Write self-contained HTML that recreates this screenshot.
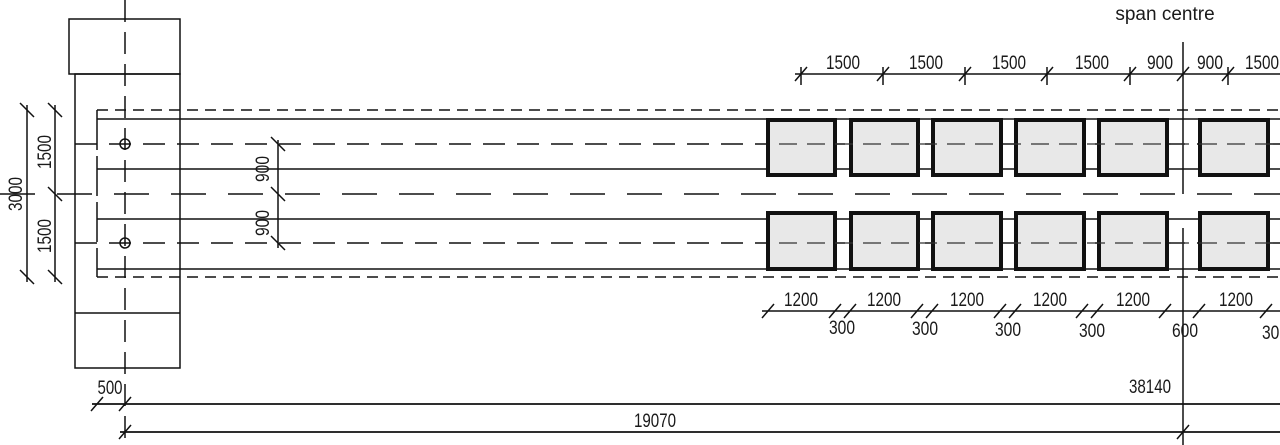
<!DOCTYPE html>
<html><head><meta charset="utf-8"><style>
html,body{margin:0;padding:0;background:#fff;}
svg{display:block;}
text{font-family:"Liberation Sans",sans-serif;fill:#1a1a1a;}
.d{font-size:19px;}
</style></head><body>
<svg width="1280" height="445" viewBox="0 0 1280 445" xmlns="http://www.w3.org/2000/svg">
<g stroke="#111" stroke-width="1.5" fill="none">
  <!-- column / pier -->
  <rect x="69" y="19" width="111" height="55"/>
  <rect x="75" y="74" width="105" height="294"/>
  <line x1="75" y1="313" x2="180" y2="313"/>
  <line x1="125" y1="0" x2="125" y2="445" stroke-dasharray="22,10"/>
  <!-- deck outline -->
  <line x1="97" y1="110" x2="1280" y2="110" stroke-dasharray="11,7"/>
  <line x1="97" y1="277" x2="1280" y2="277" stroke-dasharray="11,7"/>
  <line x1="97" y1="110" x2="97" y2="277" stroke-dasharray="40,6"/>
  <line x1="97" y1="119" x2="1280" y2="119"/>
  <line x1="97" y1="169" x2="1280" y2="169"/>
  <line x1="97" y1="219" x2="1280" y2="219"/>
  <line x1="97" y1="269" x2="1280" y2="269"/>
  <line x1="75" y1="144" x2="1280" y2="144" stroke-dasharray="22,12"/>
  <line x1="75" y1="243" x2="1280" y2="243" stroke-dasharray="22,12"/>
  <line x1="0" y1="194" x2="1280" y2="194" stroke-dasharray="35,22"/>
  <circle cx="125" cy="144" r="5"/>
  <circle cx="125" cy="243" r="5"/>
  <!-- left dims -->
  <line x1="27" y1="105" x2="27" y2="282"/>
  <line x1="55" y1="105" x2="55" y2="282"/>
  <line x1="20" y1="103" x2="34" y2="117"/><line x1="20" y1="270" x2="34" y2="284"/>
  <line x1="48" y1="103" x2="62" y2="117"/><line x1="48" y1="187" x2="62" y2="201"/><line x1="48" y1="270" x2="62" y2="284"/>
  <line x1="278" y1="140" x2="278" y2="248"/>
  <line x1="271" y1="137" x2="285" y2="151"/><line x1="271" y1="187" x2="285" y2="201"/><line x1="271" y1="236" x2="285" y2="250"/>
  <!-- span centre line -->
  <line x1="1183" y1="42" x2="1183" y2="194"/>
  <line x1="1183" y1="228" x2="1183" y2="445"/>
  <!-- top dim -->
  <line x1="795" y1="74" x2="1280" y2="74"/>
  <line x1="801" y1="67" x2="801" y2="85"/><line x1="883" y1="67" x2="883" y2="85"/><line x1="965" y1="67" x2="965" y2="85"/><line x1="1047" y1="67" x2="1047" y2="85"/><line x1="1130" y1="67" x2="1130" y2="85"/><line x1="1228" y1="67" x2="1228" y2="85"/>
  <line x1="795" y1="81" x2="807" y2="67"/><line x1="877" y1="81" x2="889" y2="67"/><line x1="959" y1="81" x2="971" y2="67"/><line x1="1041" y1="81" x2="1053" y2="67"/><line x1="1124" y1="81" x2="1136" y2="67"/><line x1="1177" y1="81" x2="1189" y2="67"/><line x1="1222" y1="81" x2="1234" y2="67"/>
  <!-- bottom dim -->
  <line x1="762" y1="311" x2="1280" y2="311"/>
  <line x1="762" y1="318" x2="774" y2="304"/><line x1="829" y1="318" x2="841" y2="304"/><line x1="844" y1="318" x2="856" y2="304"/><line x1="911" y1="318" x2="923" y2="304"/><line x1="926" y1="318" x2="938" y2="304"/><line x1="994" y1="318" x2="1006" y2="304"/><line x1="1009" y1="318" x2="1021" y2="304"/><line x1="1076" y1="318" x2="1088" y2="304"/><line x1="1091" y1="318" x2="1103" y2="304"/><line x1="1159" y1="318" x2="1171" y2="304"/><line x1="1193" y1="318" x2="1205" y2="304"/><line x1="1260" y1="318" x2="1272" y2="304"/>
  <!-- overall dims -->
  <line x1="92" y1="404" x2="1280" y2="404" stroke-width="1.8"/>
  <line x1="120" y1="432" x2="1280" y2="432" stroke-width="1.8"/>
  <line x1="91" y1="411" x2="103" y2="397"/><line x1="119" y1="411" x2="131" y2="397"/>
  <line x1="119" y1="439" x2="131" y2="425"/><line x1="1177" y1="439" x2="1189" y2="425"/>
</g>
<!-- boxes -->
<g fill="#e8e8e8" stroke="#111" stroke-width="4">
  <rect x="768" y="120" width="67" height="55"/><rect x="851" y="120" width="67" height="55"/><rect x="933" y="120" width="68" height="55"/><rect x="1016" y="120" width="68" height="55"/><rect x="1099" y="120" width="68" height="55"/><rect x="1200" y="120" width="68" height="55"/>
  <rect x="768" y="213" width="67" height="56"/><rect x="851" y="213" width="67" height="56"/><rect x="933" y="213" width="68" height="56"/><rect x="1016" y="213" width="68" height="56"/><rect x="1099" y="213" width="68" height="56"/><rect x="1200" y="213" width="68" height="56"/>
</g>
<g stroke="#333" stroke-width="1.2" stroke-dasharray="18,10" fill="none">
  <line x1="779" y1="144" x2="1275" y2="144"/><line x1="779" y1="243" x2="1275" y2="243"/>
</g>
<!-- texts -->
<text x="1165" y="20" font-size="19" text-anchor="middle">span centre</text>
<g class="d" text-anchor="middle">
  <text x="843" y="69" textLength="34" lengthAdjust="spacingAndGlyphs">1500</text>
  <text x="926" y="69" textLength="34" lengthAdjust="spacingAndGlyphs">1500</text>
  <text x="1009" y="69" textLength="34" lengthAdjust="spacingAndGlyphs">1500</text>
  <text x="1092" y="69" textLength="34" lengthAdjust="spacingAndGlyphs">1500</text>
  <text x="1160" y="69" textLength="26" lengthAdjust="spacingAndGlyphs">900</text>
  <text x="1210" y="69" textLength="26" lengthAdjust="spacingAndGlyphs">900</text>
  <text x="1262" y="69" textLength="34" lengthAdjust="spacingAndGlyphs">1500</text>
  <text x="801" y="306" textLength="34" lengthAdjust="spacingAndGlyphs">1200</text>
  <text x="884" y="306" textLength="34" lengthAdjust="spacingAndGlyphs">1200</text>
  <text x="967" y="306" textLength="34" lengthAdjust="spacingAndGlyphs">1200</text>
  <text x="1050" y="306" textLength="34" lengthAdjust="spacingAndGlyphs">1200</text>
  <text x="1133" y="306" textLength="34" lengthAdjust="spacingAndGlyphs">1200</text>
  <text x="1236" y="306" textLength="34" lengthAdjust="spacingAndGlyphs">1200</text>
  <text x="842" y="334" textLength="26" lengthAdjust="spacingAndGlyphs">300</text>
  <text x="925" y="335" textLength="26" lengthAdjust="spacingAndGlyphs">300</text>
  <text x="1008" y="336" textLength="26" lengthAdjust="spacingAndGlyphs">300</text>
  <text x="1092" y="337" textLength="26" lengthAdjust="spacingAndGlyphs">300</text>
  <text x="1185" y="337" textLength="26" lengthAdjust="spacingAndGlyphs">600</text>
  <text x="1275" y="339" textLength="26" lengthAdjust="spacingAndGlyphs">300</text>
  <text x="110" y="394" textLength="25" lengthAdjust="spacingAndGlyphs">500</text>
  <text x="655" y="427" textLength="42" lengthAdjust="spacingAndGlyphs">19070</text>
  <text x="1150" y="393" textLength="42" lengthAdjust="spacingAndGlyphs">38140</text>
  <text transform="translate(22,194) rotate(-90)" textLength="34" lengthAdjust="spacingAndGlyphs">3000</text>
  <text transform="translate(51,152) rotate(-90)" textLength="34" lengthAdjust="spacingAndGlyphs">1500</text>
  <text transform="translate(51,236) rotate(-90)" textLength="34" lengthAdjust="spacingAndGlyphs">1500</text>
  <text transform="translate(269,169) rotate(-90)" textLength="26" lengthAdjust="spacingAndGlyphs">900</text>
  <text transform="translate(269,223) rotate(-90)" textLength="26" lengthAdjust="spacingAndGlyphs">900</text>
</g>
</svg>
</body></html>
